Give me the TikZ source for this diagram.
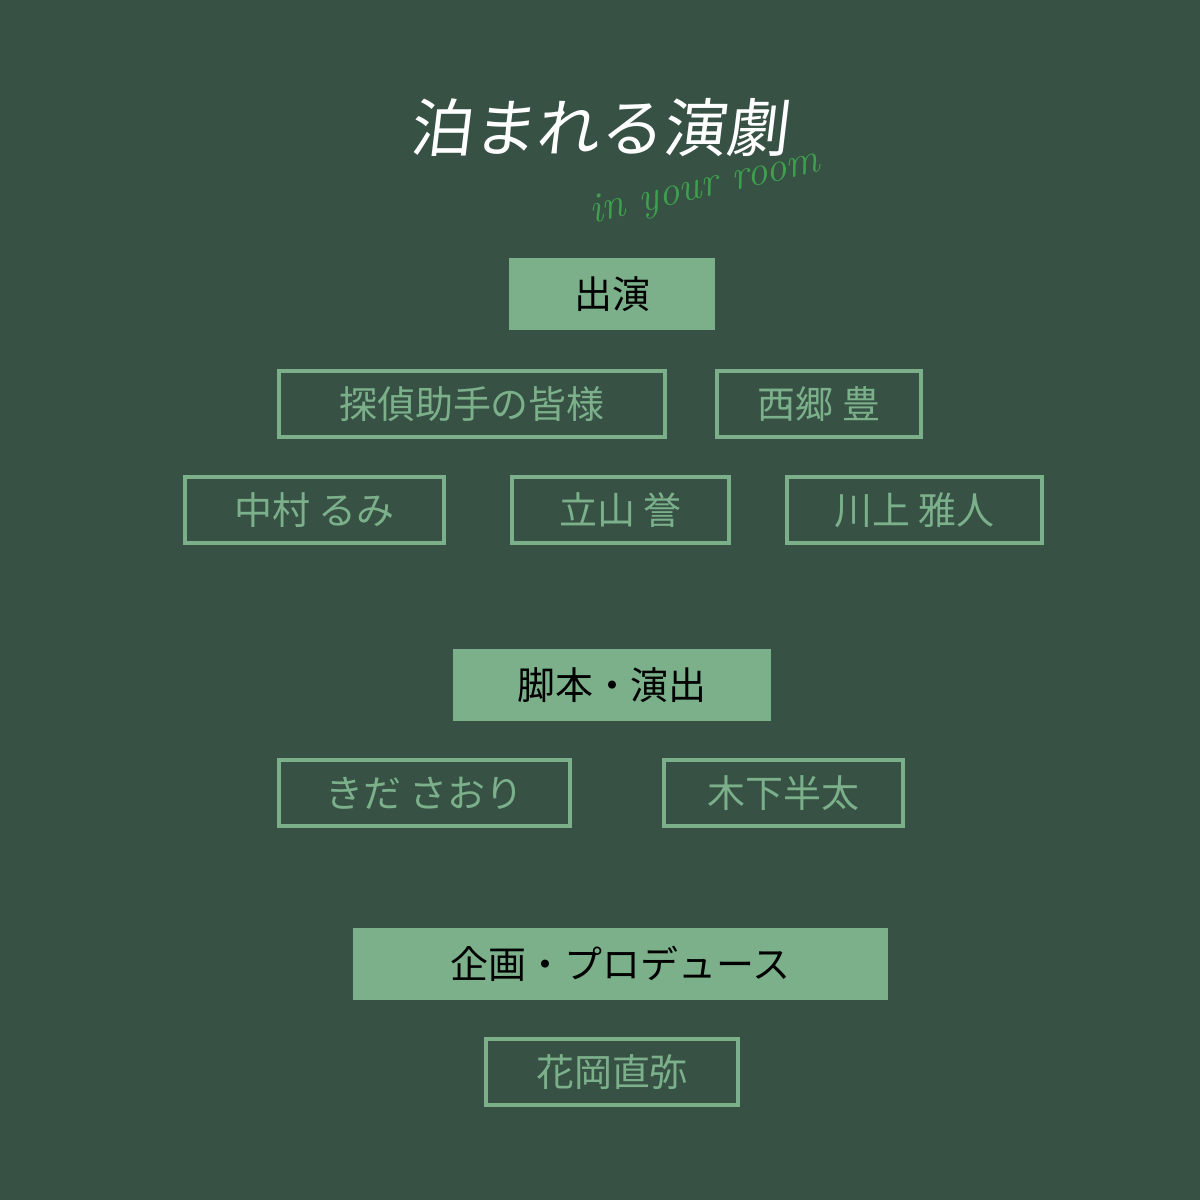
\documentclass[tikz,border=0pt]{standalone}
\usepackage{fontspec}
\newfontfamily\jp{Noto Sans CJK JP}
\usepackage{tikz}
\usetikzlibrary{positioning}
\definecolor{bgcol}{HTML}{375244}
\definecolor{boxcol}{HTML}{7BB08B}
\definecolor{scriptcol}{HTML}{3DA04D}
\tikzset{
  head/.style={fill=boxcol,draw=none,minimum height=0.72cm,font=\jp\fontsize{10.8}{12}\selectfont,text=black},
  namebox/.style={draw=boxcol,line width=1.15pt,minimum height=0.66cm,font=\jp\fontsize{10.8}{12}\selectfont,text=boxcol}
}
\begin{document}
\begin{tikzpicture}[x=1cm,y=1cm]
  \fill[bgcol] (0,0) rectangle (12,12);
  \useasboundingbox (0,0) rectangle (12,12);
  %title
  \node[text=white,font=\jp\fontsize{18}{21}\selectfont,xslant=0.12] (title) at (6.02,10.72) {泊まれる演劇};
  \node[text=scriptcol,font=\itshape\fontsize{12}{13}\selectfont,rotate=13] (sub) at (7.05,10.12) {in your room};
  %cast
  \node[head,minimum width=2.06cm] (cast) at (6.12,9.06) {出演};
  \node[namebox,minimum width=3.86cm] (c1) at (4.72,7.96) {探偵助手の皆様};
  \node[namebox,minimum width=2.04cm] (c2) at (8.19,7.96) {西郷 豊};
  \node[namebox,minimum width=2.59cm] (c3) at (3.145,6.90) {中村 るみ};
  \node[namebox,minimum width=2.17cm] (c4) at (6.205,6.90) {立山 誉};
  \node[namebox,minimum width=2.55cm] (c5) at (9.145,6.90) {川上 雅人};
  %script
  \node[head,minimum width=3.18cm] (script) at (6.12,5.15) {脚本・演出};
  \node[namebox,minimum width=2.91cm] (s1) at (4.245,4.07) {きだ さおり};
  \node[namebox,minimum width=2.39cm] (s2) at (7.835,4.07) {木下半太};
  %produce
  \node[head,minimum width=5.35cm] (prod) at (6.205,2.36) {企画・プロデュース};
  \node[namebox,minimum width=2.52cm] (p1) at (6.12,1.28) {花岡直弥};
\end{tikzpicture}
\end{document}
